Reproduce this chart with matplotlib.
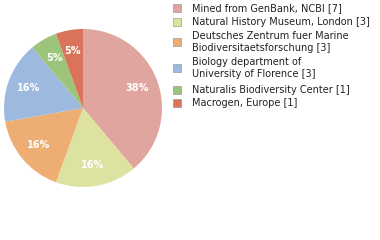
import matplotlib
matplotlib.use('Agg')
import matplotlib.pyplot as plt
from matplotlib.patches import Rectangle

# 各机构的样本数量
labels = ['Mined from GenBank, NCBI [7]',
          'Natural History Museum, London [3]',
          'Deutsches Zentrum fuer Marine\nBiodiversitaetsforschung [3]',
          'Biology department of\nUniversity of Florence [3]',
          'Naturalis Biodiversity Center [1]',
          'Macrogen, Europe [1]']
counts = [7, 3, 3, 3, 1, 1]
colors = ['#E0A59E', '#DDE2A0', '#EEAD72', '#9DB9DE', '#9CC47A', '#DB735A']

W, H = 380, 240
fig = plt.figure(figsize=(W / 100, H / 100), dpi=100)

# 饼图区域
ax = fig.add_axes([4 / W, 1 - 187 / H, 158 / W, 158 / H])
wedges, texts, autotexts = ax.pie(
    counts, colors=colors, startangle=90, counterclock=False,
    autopct=lambda p: '%d%%' % int(p + 1e-9),
    pctdistance=0.73, textprops={'color': 'white', 'fontsize': 7, 'fontweight': 'bold'})
ax.set_xlim(-1, 1)
ax.set_ylim(-1, 1)
ax.set_aspect('equal')
ax.axis('off')

# 图例：手动放置
row_y = [8, 22, 42, 68, 90, 103]
for lab, c, y in zip(labels, colors, row_y):
    fig.patches.append(Rectangle((173 / W, 1 - (y + 4) / H), 8 / W, 8 / H,
                                 transform=fig.transFigure, facecolor=c,
                                 edgecolor='#999999', linewidth=0.5))
    fig.text(192 / W, 1 - y / H, lab, fontsize=7, va='center', ha='left',
             color='#222222', linespacing=1.3)

fig.savefig('out.png', dpi=100)
